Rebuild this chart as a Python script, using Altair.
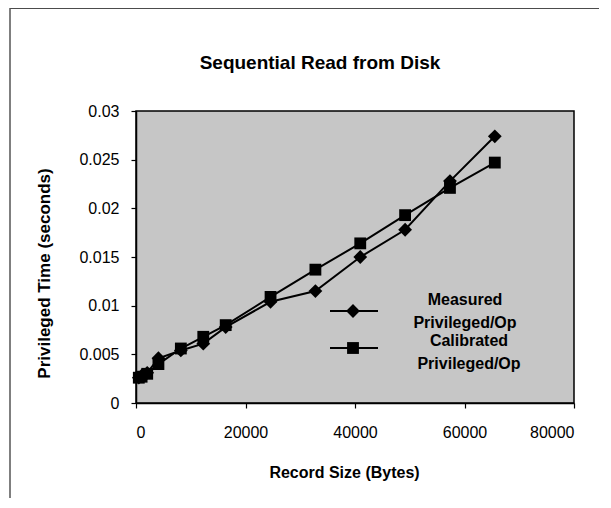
import altair as alt
import pandas as pd

# ---- data ----
record_sizes = [512, 1024, 2048, 4096, 8192, 12288, 16384, 24576, 32768, 40960, 49152, 57344, 65536]
measured = [0.0026, 0.0028, 0.0031, 0.0046, 0.0054, 0.0061, 0.0078, 0.0104, 0.0115, 0.0150, 0.0178, 0.0228, 0.0274]
calibrated = [0.0026, 0.0027, 0.0030, 0.0040, 0.0056, 0.0068, 0.0080, 0.0109, 0.0137, 0.0164, 0.0193, 0.0221, 0.0247]
series_names = ["Measured Privileged/Op", "Calibrated Privileged/Op"]
legend_labels = ["Measured\nPrivileged/Op", "Calibrated\nPrivileged/Op"]
chart_title = "Sequential Read from Disk"
x_ticks = [0, 20000, 40000, 60000, 80000]
y_ticks = [0, 0.005, 0.01, 0.015, 0.02, 0.025, 0.03]

rows = []
for name, vals in zip(series_names, [measured, calibrated]):
    for s, v in zip(record_sizes, vals):
        rows.append({"size": s, "time": v, "series": name})
df = pd.DataFrame(rows)

W, H = 438, 292
FONT = "Liberation Sans"
shapes = ["diamond", "square"]
marker_sizes = [190, 140]

x_enc = alt.X(
    "size:Q",
    scale=alt.Scale(domain=[0, 80000], nice=False, zero=True),
    axis=alt.Axis(
        values=x_ticks, format="d", title="Record Size (Bytes)",
        tickSize=5, labelPadding=16,
        titleX=208, titleY=69, titleAlign="center", titleBaseline="middle",
        titleFontSize=16,
    ),
)
y_enc = alt.Y(
    "time:Q",
    scale=alt.Scale(domain=[0, 0.03], nice=False),
    axis=alt.Axis(
        values=y_ticks, format="~g", title="Privileged Time (seconds)",
        tickSize=5, labelPadding=12,
        titleX=-92, titleY=162, titleAlign="center", titleBaseline="middle",
        titleFontSize=17,
    ),
)

lines = alt.Chart(df).mark_line(color="black", strokeWidth=2).encode(
    x=x_enc, y=y_enc, detail="series:N"
)
points = alt.Chart(df).mark_point(filled=True, color="black", opacity=1).encode(
    x="size:Q", y="time:Q",
    shape=alt.Shape("series:N", scale=alt.Scale(domain=series_names, range=shapes), legend=None),
    size=alt.Size("series:N", scale=alt.Scale(domain=series_names, range=marker_sizes), legend=None),
)

# ---- hand-built legend inside the plot ----
legend_layers = []
leg_sym_y = [200, 237]
leg_txt_y = [194, 235]
leg_txt_x = [329, 333]
for i, lab in enumerate(legend_labels):
    d = pd.DataFrame({"label": [lab]})
    legend_layers.append(
        alt.Chart(d).mark_rule(color="black", strokeWidth=2).encode(
            x=alt.value(194), x2=alt.value(242), y=alt.value(leg_sym_y[i])
        )
    )
    legend_layers.append(
        alt.Chart(d).mark_point(filled=True, color="black", opacity=1,
                                size=marker_sizes[i], shape=shapes[i]).encode(
            x=alt.value(217), y=alt.value(leg_sym_y[i])
        )
    )
    legend_layers.append(
        alt.Chart(d).mark_text(
            font=FONT, fontSize=16, fontWeight="bold", color="black",
            align="center", baseline="alphabetic", lineBreak="\n", lineHeight=23,
        ).encode(text="label:N", x=alt.value(leg_txt_x[i]), y=alt.value(leg_txt_y[i]))
    )

# ---- title as a text mark ----
title_layer = alt.Chart(pd.DataFrame({"t": [chart_title]})).mark_text(
    font=FONT, fontSize=19, fontWeight="bold", color="black",
    align="center", baseline="middle",
).encode(text="t:N", x=alt.value(184), y=alt.value(-48))

# ---- outer chart frame (top and left edges) ----
frame_d = pd.DataFrame({"k": [0]})
frame_top = alt.Chart(frame_d).mark_rule(color="#111", strokeWidth=1.5).encode(
    x=alt.value(-126), x2=alt.value(W + 30), y=alt.value(-103)
)
frame_left = alt.Chart(frame_d).mark_rule(color="#555", strokeWidth=1.5).encode(
    x=alt.value(-126), y=alt.value(-103), y2=alt.value(H + 140)
)

chart = alt.layer(lines, points, *legend_layers, title_layer, frame_top, frame_left).properties(
    width=W, height=H,
    autosize=alt.AutoSizeParams(type="none"),
    padding={"left": 128, "top": 103, "right": 25, "bottom": 95},
).configure(
    background="white"
).configure_view(
    fill="#c6c6c6", stroke="black", strokeWidth=1.5
).configure_axis(
    grid=False, domainColor="black", domainWidth=1.5, tickColor="black", tickWidth=1.2,
    labelFont=FONT, labelFontSize=16, labelColor="black",
    titleFont=FONT, titleFontWeight="bold", titleColor="black",
)

chart.save("out.html", embed_options={"renderer": "svg", "actions": False})
